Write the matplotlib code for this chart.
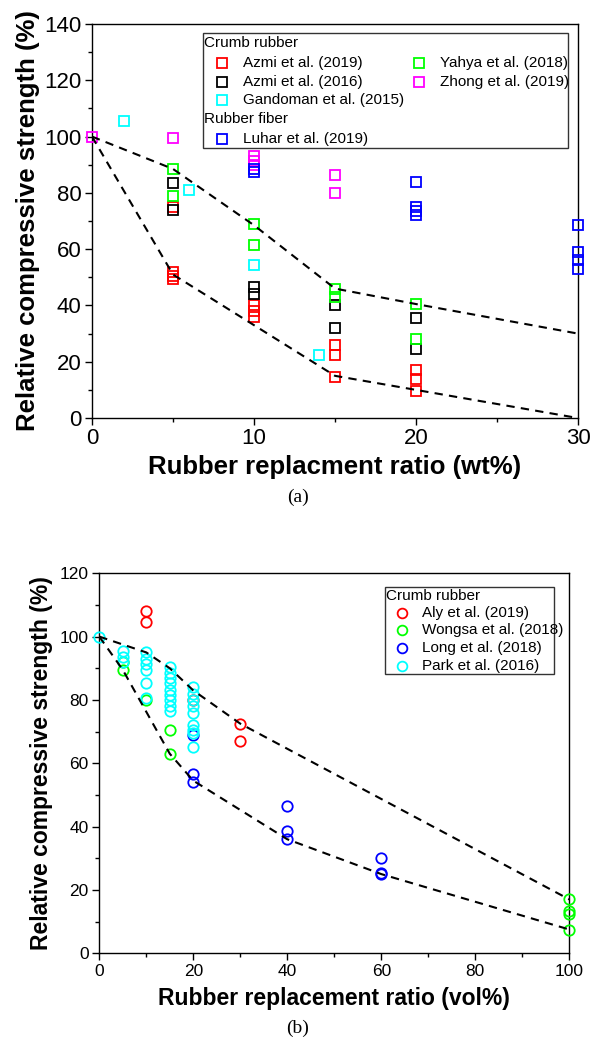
import matplotlib
matplotlib.use("Agg")
import matplotlib.pyplot as plt
from matplotlib.patches import Rectangle
from matplotlib.ticker import MultipleLocator

plt.rcParams["font.family"] = ["Liberation Sans", "DejaVu Sans"]

# ── (a) weight-based replacement ──────────────────────────────────────────
A_SERIES = [
    # label, colour, x, y
    ("Azmi et al. (2019)", "#ff0000",
     [5, 5, 5, 5, 10, 10, 10, 15, 15, 15, 20, 20, 20],
     [75, 52, 50.5, 49.5, 40, 38, 36, 26, 22.5, 14.5, 17, 14, 9.5]),
    ("Azmi et al. (2016)", "#000000",
     [5, 5, 10, 10, 15, 15, 20, 20],
     [83.5, 74, 46.5, 44, 40, 32, 35.5, 24.5]),
    ("Gandoman et al. (2015)", "#00ffff",
     [2, 6, 10, 14],
     [105.5, 81, 54.5, 22.5]),
    ("Yahya et al. (2018)", "#00ff00",
     [5, 5, 10, 10, 15, 15, 20, 20],
     [88.5, 79, 69, 61.5, 46, 43, 40.5, 28]),
    ("Zhong et al. (2019)", "#ff00ff",
     [0, 5, 10, 10, 10, 15, 15],
     [100, 99.5, 93, 91.5, 90, 86.5, 80]),
    ("Luhar et al. (2019)", "#0000ff",
     [10, 10, 20, 20, 20, 20, 30, 30, 30, 30],
     [88.5, 87.5, 84, 75, 73.5, 72, 68.5, 59, 56, 53]),
]
A_UPPER_X = [0, 5, 10, 15, 20, 30]
A_UPPER_Y = [100, 88.5, 68.5, 46, 40.5, 30]
A_LOWER_X = [0, 5, 15, 20, 30]
A_LOWER_Y = [100, 51, 15, 10, 0]

# ── (b) volume-based replacement ──────────────────────────────────────────
B_SERIES = [
    ("Aly et al. (2019)", "#ff0000",
     [10, 10, 20, 30, 30],
     [108, 104.5, 80, 72.5, 67]),
    ("Wongsa et al. (2018)", "#00ff00",
     [5, 5, 10, 15, 15, 100, 100, 100, 100],
     [92, 89.5, 80, 70.5, 63, 17, 13.5, 12.5, 7.5]),
    ("Long et al. (2018)", "#0000ff",
     [20, 20, 20, 40, 40, 40, 60, 60, 60],
     [69, 56.5, 54, 46.5, 38.5, 36, 30, 25.5, 25]),
    ("Park et al. (2016)", "#00ffff",
     [0, 5, 5, 5, 10, 10, 10, 10, 10, 10,
      15, 15, 15, 15, 15, 15, 15, 15, 15,
      20, 20, 20, 20, 20, 20, 20, 20, 20],
     [100, 95.5, 93.5, 92, 95, 93, 91.5, 89.5, 85.5, 80.5,
      90.5, 88.5, 87, 85.5, 83, 81.5, 80, 78, 76.5,
      84, 82, 80, 78, 76, 72, 70.5, 69.5, 65]),
]
B_UPPER_X = [0, 10, 15, 20, 30, 100]
B_UPPER_Y = [100, 95, 90, 83, 72.5, 17]
B_LOWER_X = [0, 5, 15, 20, 40, 60, 100]
B_LOWER_Y = [100, 89.5, 63, 54.5, 36, 25, 7.5]

fig = plt.figure(figsize=(5.92, 10.48), dpi=100)
ax_a = fig.add_axes([0.1554, 0.6011, 0.821, 0.376])
ax_b = fig.add_axes([0.1677, 0.0904, 0.794, 0.3626])


def style_axes(ax, tick_size):
    for sp in ax.spines.values():
        sp.set_linewidth(1.0)
    ax.tick_params(which="both", direction="out", top=False, right=False,
                   labelsize=tick_size, width=1.0, pad=2.5)
    ax.tick_params(which="major", length=5)
    ax.tick_params(which="minor", length=3)


def draw_legend(ax, box, rows, fs):
    """rows: (kind, text, colour, marker, x, y) in axes fraction."""
    x0, y0, x1, y1 = box
    ax.add_patch(Rectangle((x0, y0), x1 - x0, y1 - y0, transform=ax.transAxes,
                           fill=False, edgecolor="#333333", lw=1.0,
                           clip_on=False, zorder=5))
    for kind, text, colour, marker, x, y in rows:
        if kind == "head":
            ax.text(x, y, text, transform=ax.transAxes, fontsize=fs,
                    va="center", ha="left", zorder=6)
        else:
            ax.plot([x], [y], marker=marker, ms=7, mfc="none", mec=colour,
                    mew=1.3, ls="none", transform=ax.transAxes, clip_on=False,
                    zorder=6)
            ax.text(x + 0.043, y, text, transform=ax.transAxes, fontsize=fs,
                    va="center", ha="left", zorder=6)


# ── panel (a) ─────────────────────────────────────────────────────────────
for label, colour, xs, ys in A_SERIES:
    ax_a.plot(xs, ys, ls="none", marker="s", ms=7, mfc="none", mec=colour,
              mew=1.3, clip_on=False, zorder=3)
ax_a.plot(A_UPPER_X, A_UPPER_Y, "k--", lw=1.5, dashes=(4, 3), zorder=4)
ax_a.plot(A_LOWER_X, A_LOWER_Y, "k--", lw=1.5, dashes=(4, 3), zorder=4)

ax_a.set_xlim(0, 30)
ax_a.set_ylim(0, 140)
ax_a.xaxis.set_major_locator(MultipleLocator(10))
ax_a.xaxis.set_minor_locator(MultipleLocator(5))
ax_a.yaxis.set_major_locator(MultipleLocator(20))
ax_a.yaxis.set_minor_locator(MultipleLocator(10))
style_axes(ax_a, 16)
ax_a.set_xlabel("Rubber replacment ratio (wt%)", fontsize=18.5,
                fontweight="bold", labelpad=4)
ax_a.set_ylabel("Relative compressive strength (%)", fontsize=18.5,
                fontweight="bold", labelpad=3)

c = {lab: col for lab, col, _, _ in A_SERIES}
draw_legend(ax_a, (0.228, 0.685, 0.979, 0.977), [
    ("head", "Crumb rubber", None, None, 0.230, 0.951),
    ("item", "Azmi et al. (2019)", c["Azmi et al. (2019)"], "s", 0.268, 0.900),
    ("item", "Azmi et al. (2016)", c["Azmi et al. (2016)"], "s", 0.268, 0.854),
    ("item", "Gandoman et al. (2015)", c["Gandoman et al. (2015)"], "s", 0.268, 0.806),
    ("item", "Yahya et al. (2018)", c["Yahya et al. (2018)"], "s", 0.672, 0.900),
    ("item", "Zhong et al. (2019)", c["Zhong et al. (2019)"], "s", 0.672, 0.854),
    ("head", "Rubber fiber", None, None, 0.230, 0.758),
    ("item", "Luhar et al. (2019)", c["Luhar et al. (2019)"], "s", 0.268, 0.707),
], 11)

# ── panel (b) ─────────────────────────────────────────────────────────────
for label, colour, xs, ys in B_SERIES:
    ax_b.plot(xs, ys, ls="none", marker="o", ms=7.5, mfc="none", mec=colour,
              mew=1.3, clip_on=False, zorder=3)
ax_b.plot(B_UPPER_X, B_UPPER_Y, "k--", lw=1.5, dashes=(4, 3), zorder=4)
ax_b.plot(B_LOWER_X, B_LOWER_Y, "k--", lw=1.5, dashes=(4, 3), zorder=4)

ax_b.set_xlim(0, 100)
ax_b.set_ylim(0, 120)
ax_b.xaxis.set_major_locator(MultipleLocator(20))
ax_b.xaxis.set_minor_locator(MultipleLocator(10))
ax_b.yaxis.set_major_locator(MultipleLocator(20))
ax_b.yaxis.set_minor_locator(MultipleLocator(10))
style_axes(ax_b, 12.5)
ax_b.set_xlabel("Rubber replacement ratio (vol%)", fontsize=16.5,
                fontweight="bold", labelpad=6)
ax_b.set_ylabel("Relative compressive strength (%)", fontsize=16.5,
                fontweight="bold", labelpad=5)

cb = {lab: col for lab, col, _, _ in B_SERIES}
draw_legend(ax_b, (0.608, 0.735, 0.967, 0.963), [
    ("head", "Crumb rubber", None, None, 0.610, 0.941),
    ("item", "Aly et al. (2019)", cb["Aly et al. (2019)"], "o", 0.643, 0.896),
    ("item", "Wongsa et al. (2018)", cb["Wongsa et al. (2018)"], "o", 0.643, 0.851),
    ("item", "Long et al. (2018)", cb["Long et al. (2018)"], "o", 0.643, 0.804),
    ("item", "Park et al. (2016)", cb["Park et al. (2016)"], "o", 0.643, 0.756),
], 11)

fig.text(0.503, 1 - 497 / 1048, "(a)", ha="center", va="center",
         fontsize=14, family="Liberation Serif")
fig.text(0.503, 1 - 1028 / 1048, "(b)", ha="center", va="center",
         fontsize=14, family="Liberation Serif")

fig.savefig("out.png", dpi=100, facecolor="white")
